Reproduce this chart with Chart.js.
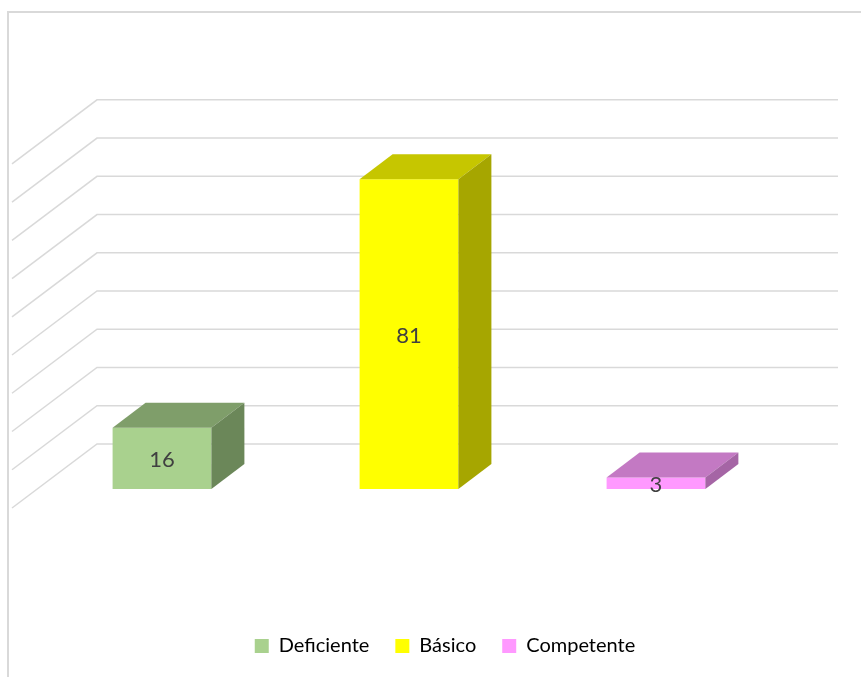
<!DOCTYPE html>
<html>
<head>
<meta charset="utf-8">
<script src="https://cdn.jsdelivr.net/npm/chart.js@4.4.1/dist/chart.umd.min.js"></script>
<style>
  html, body { margin: 0; padding: 0; background: #ffffff; }
  canvas { display: block; }
</style>
</head>
<body>
<canvas id="chart" width="861" height="677"></canvas>
<script>
// Categories and their values
const categories = ['Deficiente', 'Básico', 'Competente'];
const values = [16, 81, 3];

// Value-axis gridlines (drawn on the back and side walls)
const gridValues = [0, 10, 20, 30, 40, 50, 60, 70, 80, 90];

// Face colours of each box: front, top, side
const frontColors = ['#A9D18E', '#FFFF00', '#FF99FF'];
const topColors = ['#7F9E6A', '#C6C600', '#C379C3'];
const sideColors = ['#6B8759', '#A6A600', '#A565A5'];

// Oblique projection offsets (pixels)
const BAR_DEPTH = { dx: 33, dy: -25 };    // bar front face -> bar back face
const BACK_WALL = { dx: 58.5, dy: -45 };  // bar front plane -> back wall
const SIDE_FRONT = { dx: -26.5, dy: 19 }; // bar front plane -> front edge of side wall

const threeD = {
  id: 'threeD',
  beforeDraw(chart) {
    const ctx = chart.ctx;
    ctx.save();
    ctx.fillStyle = '#ffffff';
    ctx.fillRect(0, 0, chart.width, chart.height);
    // chart frame (left and top edges)
    ctx.fillStyle = '#d9d9d9';
    ctx.fillRect(7, 11, 2, chart.height - 11);
    ctx.fillRect(7, 11, chart.width - 7, 2);
    ctx.restore();
  },
  beforeDatasetsDraw(chart) {
    const ctx = chart.ctx;
    const area = chart.chartArea;
    const y = chart.scales.y;
    const backLeft = area.left + BACK_WALL.dx;
    const backRight = area.right + BACK_WALL.dx;
    const frontX = area.left + SIDE_FRONT.dx;
    ctx.save();
    ctx.strokeStyle = '#d9d9d9';
    ctx.lineWidth = 1.5;
    gridValues.forEach(v => {
      const py = y.getPixelForValue(v);
      const by = py + BACK_WALL.dy;
      ctx.beginPath();
      ctx.moveTo(frontX, py + SIDE_FRONT.dy);
      ctx.lineTo(backLeft, by);
      ctx.lineTo(backRight, by);
      ctx.stroke();
    });
    ctx.restore();
  },
  afterDatasetsDraw(chart) {
    const ctx = chart.ctx;
    const meta = chart.getDatasetMeta(0);
    ctx.save();
    meta.data.forEach((bar, i) => {
      const { x, y, base, width } = bar.getProps(['x', 'y', 'base', 'width'], true);
      const l = x - width / 2, r = x + width / 2;
      const { dx, dy } = BAR_DEPTH;
      // top face
      ctx.fillStyle = topColors[i];
      ctx.beginPath();
      ctx.moveTo(l, y);
      ctx.lineTo(r, y);
      ctx.lineTo(r + dx, y + dy);
      ctx.lineTo(l + dx, y + dy);
      ctx.closePath();
      ctx.fill();
      // right side face
      ctx.fillStyle = sideColors[i];
      ctx.beginPath();
      ctx.moveTo(r, y);
      ctx.lineTo(r + dx, y + dy);
      ctx.lineTo(r + dx, base + dy);
      ctx.lineTo(r, base);
      ctx.closePath();
      ctx.fill();
    });
    // value labels
    ctx.fillStyle = '#404040';
    ctx.font = '22px Lato, "Open Sans", sans-serif';
    ctx.textAlign = 'center';
    ctx.textBaseline = 'middle';
    meta.data.forEach((bar, i) => {
      const { x, y, base } = bar.getProps(['x', 'y', 'base'], true);
      ctx.fillText(String(values[i]), x, (y + base) / 2 + 2);
    });
    ctx.restore();
  }
};

new Chart(document.getElementById('chart'), {
  type: 'bar',
  data: {
    labels: categories,
    datasets: [{
      data: values,
      backgroundColor: frontColors,
      borderWidth: 0,
      barPercentage: 0.4,
      categoryPercentage: 1.0
    }]
  },
  options: {
    responsive: false,
    animation: false,
    layout: { padding: { left: 29, right: 0, top: 144.8, bottom: 11 } },
    plugins: {
      tooltip: { enabled: false },
      legend: {
        position: 'bottom',
        labels: {
          boxWidth: 14,
          boxHeight: 14,
          padding: 26,
          color: '#595959',
          font: { family: 'Lato, "Open Sans", sans-serif', size: 20 },
          generateLabels: () => categories.map((c, i) => ({
            text: c,
            fillStyle: frontColors[i],
            strokeStyle: frontColors[i],
            lineWidth: 0,
            hidden: false,
            index: i
          }))
        }
      }
    },
    scales: {
      x: {
        display: true,
        grid: { display: false },
        border: { display: false },
        ticks: { display: false },
        afterFit(s) { s.height = 121; }
      },
      y: {
        min: 0,
        max: 90,
        ticks: { display: false, stepSize: 10 },
        grid: { display: false },
        border: { display: false },
        afterFit(s) { s.width = 9.5; }
      },
      yRight: {
        position: 'right',
        min: 0,
        max: 90,
        ticks: { display: false },
        grid: { display: false },
        border: { display: false },
        afterFit(s) { s.width = 81.5; }
      }
    }
  },
  plugins: [threeD]
});
</script>
</body>
</html>
